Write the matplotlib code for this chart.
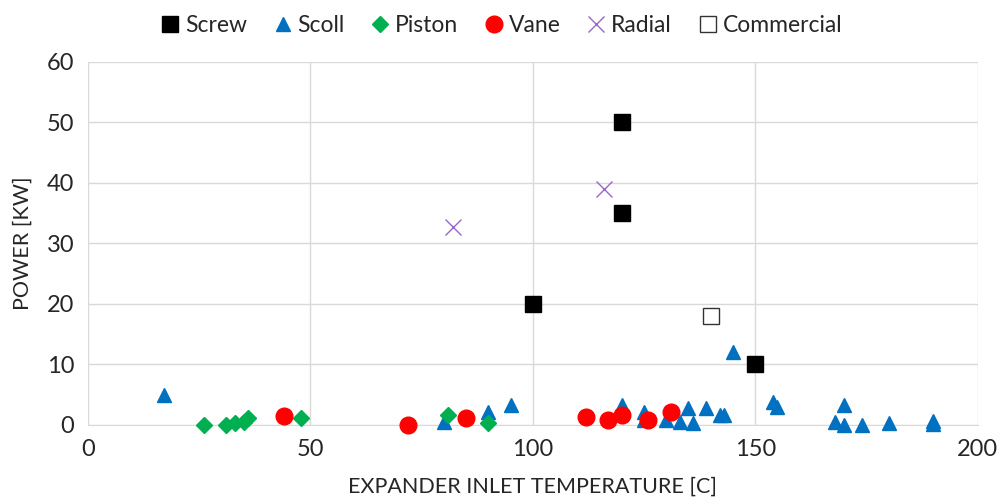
import numpy as np
import matplotlib.pyplot as plt

plt.rcParams['font.family'] = ['Lato', 'DejaVu Sans']

# data
screw_t = [100, 120, 120, 150]
screw_p = [20, 50, 35, 10]

scroll_t = [17, 80, 90, 95, 120, 125, 125, 130, 133, 135, 136, 139, 142, 143,
            145, 154, 155, 168, 170, 170, 174, 180, 190, 190]
scroll_p = [5, 0.5, 2.1, 3.3, 3.3, 2.1, 0.8, 0.8, 0.5, 2.8, 0.3, 2.8, 1.6, 1.6,
            12, 3.8, 3.0, 0.5, 3.3, 0, 0, 0.3, 0.6, 0.2]

piston_t = [26, 31, 33, 35, 36, 48, 81, 90]
piston_p = [0, 0, 0.3, 0.5, 1.1, 1.1, 1.6, 0.3]

vane_t = [44, 72, 85, 112, 117, 120, 126, 131]
vane_p = [1.4, 0, 1.2, 1.3, 0.8, 1.6, 0.8, 2.1]

radial_t = [82, 116]
radial_p = [32.7, 39]

comm_t = [140]
comm_p = [18]

fig = plt.figure(figsize=(10.03, 5.04), dpi=100)
ax = fig.add_axes([0.0877, 0.157, 0.887, 0.72])

kw = dict(linestyle='none', zorder=3, clip_on=False)
ax.plot(screw_t, screw_p, 's', color='black', ms=12, label='Screw', **kw)
ax.plot(scroll_t, scroll_p, '^', color='#0070C0', ms=10.5, label='Scoll', **kw)
ax.plot(piston_t, piston_p, 'D', color='#00B050', ms=8, label='Piston', **kw)
ax.plot(vane_t, vane_p, 'o', color='#FF0000', ms=12, label='Vane', **kw)
ax.plot(radial_t, radial_p, 'x', color='#9966CC', ms=12, mew=1, label='Radial', **kw)
ax.plot(comm_t, comm_p, 's', mfc='white', mec='#333333', mew=1, ms=12,
        label='Commercial', **kw)

ax.set_xlim(0, 200)
ax.set_ylim(0, 60)
ax.set_xticks([0, 50, 100, 150, 200])
ax.set_yticks(np.arange(0, 61, 10))
ax.grid(True, color='#D9D9D9', lw=1)
ax.set_axisbelow(True)
for s in ['top', 'right', 'left']:
    ax.spines[s].set_visible(False)
ax.spines['bottom'].set_color('#D9D9D9')
ax.tick_params(length=0, labelsize=17, pad=10, labelcolor='#262626')
ax.set_xlabel('EXPANDER INLET TEMPERATURE [C]', fontsize=15.5, labelpad=12, color='#262626')
ax.set_ylabel('POWER [KW]', fontsize=15.5, labelpad=10, color='#262626')

ax.legend(loc='lower center', bbox_to_anchor=(0.463, 1.015), ncol=6, frameon=False,
          fontsize=16.5, handletextpad=0.1, columnspacing=1.0, handlelength=1.1,
          labelcolor='#262626')

fig.savefig('out.png', dpi=100)
